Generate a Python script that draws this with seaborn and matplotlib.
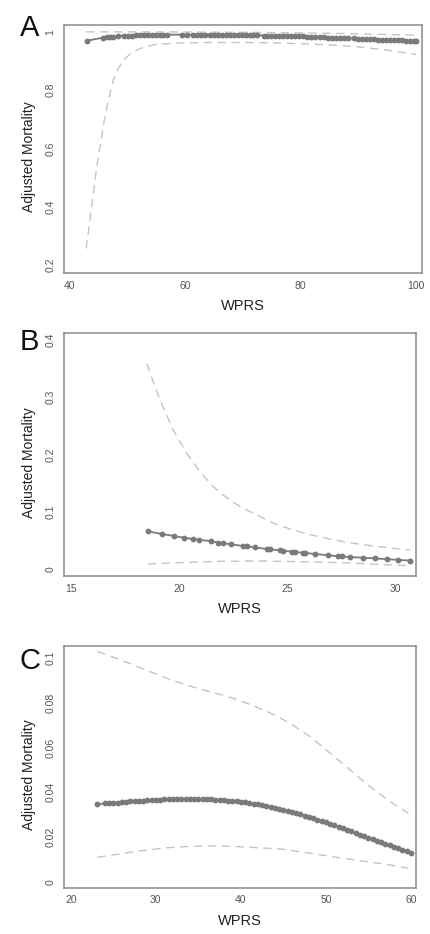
#!/usr/bin/env python3

import pandas
import seaborn as sns
import matplotlib

matplotlib.use("Agg")
import matplotlib.pyplot as plt

# Panel A: estimate (dots) and confidence band (dashed)
a_x = [42.9, 45.8, 46.4, 47.0, 47.5, 48.4, 49.3, 50.0, 50.7, 51.4,
       52.1, 52.8, 53.5, 54.2, 54.9, 55.6, 56.2, 56.8, 59.4, 60.3,
       61.4, 62.1, 62.8, 63.5, 64.2, 64.9, 65.6, 66.3, 67.0, 67.7,
       68.4, 69.1, 69.8, 70.5, 71.2, 71.8, 72.4, 73.6, 74.1, 74.8,
       75.5, 76.2, 76.9, 77.6, 78.3, 79.0, 79.7, 80.4, 81.1, 81.8,
       82.5, 83.4, 84.1, 84.8, 85.5, 86.2, 86.9, 87.6, 88.3, 89.2,
       89.9, 90.6, 91.3, 92.0, 92.7, 93.4, 94.1, 94.8, 95.5, 96.2,
       96.9, 97.6, 98.3, 99.0, 99.7, 100.0]
a_y = [0.969, 0.980, 0.981, 0.982, 0.983, 0.985, 0.986, 0.987, 0.987, 0.988,
       0.988, 0.989, 0.989, 0.989, 0.990, 0.990, 0.990, 0.990, 0.990, 0.990,
       0.990, 0.990, 0.990, 0.990, 0.990, 0.990, 0.990, 0.989, 0.989, 0.989,
       0.989, 0.989, 0.989, 0.988, 0.988, 0.988, 0.988, 0.987, 0.987, 0.987,
       0.986, 0.986, 0.986, 0.985, 0.985, 0.984, 0.984, 0.984, 0.983, 0.983,
       0.982, 0.981, 0.981, 0.980, 0.980, 0.979, 0.979, 0.978, 0.977, 0.977,
       0.976, 0.975, 0.975, 0.974, 0.974, 0.973, 0.973, 0.972, 0.971, 0.971,
       0.970, 0.970, 0.969, 0.968, 0.968, 0.967]
a_lo_x = [42.8, 43.5, 44.0, 44.6, 45.2, 45.8, 46.4, 47.0, 47.5, 48.4,
          49.3, 50.5, 52.2, 55.0, 60.0, 65.0, 70.0, 75.0, 80.0, 85.0,
          90.0, 95.0, 100.0]
a_lo_y = [0.257, 0.36, 0.44, 0.53, 0.606, 0.68, 0.743, 0.795, 0.834, 0.875,
          0.903, 0.925, 0.943, 0.957, 0.962, 0.963, 0.963, 0.962, 0.959, 0.955,
          0.948, 0.937, 0.922]
a_hi_x = [42.8, 50.0, 60.0, 70.0, 80.0, 90.0, 100.0]
a_hi_y = [0.9995, 0.9995, 0.999, 0.998, 0.996, 0.993, 0.988]

# Panel B
b_x = [18.56, 19.23, 19.76, 20.22, 20.67, 20.93, 21.47, 21.82, 22.02, 22.41,
       22.98, 23.13, 23.52, 24.06, 24.21, 24.67, 24.82, 25.21, 25.37, 25.75,
       25.83, 26.29, 26.9, 27.37, 27.52, 27.91, 28.52, 29.06, 29.6, 30.14,
       30.68]
b_y = [0.066, 0.0614, 0.058, 0.055, 0.0525, 0.0515, 0.049, 0.0465, 0.0455, 0.0435,
       0.0405, 0.040, 0.038, 0.0355, 0.035, 0.0328, 0.0322, 0.031, 0.0303, 0.0288,
       0.0285, 0.0267, 0.0245, 0.0228, 0.0224, 0.0214, 0.0202, 0.019, 0.0177, 0.0164,
       0.0152]
b_lo_x = [18.56, 20.0, 22.0, 23.75, 26.0, 26.83, 28.0, 30.68]
b_lo_y = [0.0093, 0.0115, 0.0140, 0.0144, 0.0130, 0.0122, 0.0108, 0.0063]
b_hi_x = [18.51, 19.13, 19.74, 20.36, 20.98, 21.59, 22.05, 22.51, 22.98, 23.44,
          23.9, 24.36, 25.29, 26.06, 26.83, 27.6, 28.37, 29.5, 30.68]
b_hi_y = [0.358, 0.2943, 0.2423, 0.2017, 0.1697, 0.1437, 0.1290, 0.1166, 0.1062, 0.0974,
          0.0890, 0.0805, 0.0683, 0.0605, 0.0539, 0.0483, 0.0435, 0.0383, 0.0336]

# Panel C
c_x = [23.1, 24.0, 24.5, 25.0, 25.5, 26.0, 26.5, 27.0, 27.5, 28.0,
       28.5, 29.0, 29.5, 30.0, 30.5, 31.0, 31.5, 32.0, 32.5, 33.0,
       33.5, 34.0, 34.5, 35.0, 35.5, 36.0, 36.5, 37.0, 37.5, 38.0,
       38.5, 39.0, 39.5, 40.0, 40.5, 41.0, 41.5, 42.0, 42.5, 43.0,
       43.5, 44.0, 44.5, 45.0, 45.5, 46.0, 46.5, 47.0, 47.5, 48.0,
       48.5, 49.0, 49.5, 50.0, 50.5, 51.0, 51.5, 52.0, 52.5, 53.0,
       53.5, 54.0, 54.5, 55.0, 55.5, 56.0, 56.5, 57.0, 57.5, 58.0,
       58.5, 59.0, 59.5, 60.0]
c_y = [0.0346, 0.0350, 0.0351, 0.0353, 0.0354, 0.0356, 0.0357, 0.0359, 0.0360, 0.0361,
       0.0363, 0.0364, 0.0365, 0.0366, 0.0367, 0.0368, 0.0368, 0.0369, 0.0369, 0.0370,
       0.0370, 0.0370, 0.0370, 0.0370, 0.0369, 0.0369, 0.0368, 0.0367, 0.0366, 0.0364,
       0.0363, 0.0361, 0.0359, 0.0357, 0.0355, 0.0352, 0.0349, 0.0346, 0.0343, 0.0339,
       0.0335, 0.0331, 0.0327, 0.0322, 0.0317, 0.0312, 0.0307, 0.0301, 0.0296, 0.0290,
       0.0284, 0.0278, 0.0272, 0.0265, 0.0259, 0.0252, 0.0246, 0.0239, 0.0232, 0.0225,
       0.0218, 0.0211, 0.0204, 0.0197, 0.0190, 0.0183, 0.0177, 0.0170, 0.0164, 0.0157,
       0.0150, 0.0143, 0.0137, 0.0130]
c_lo_x = [23.13, 27.37, 31.3, 34.0, 36.8, 39.0, 41.1, 45.0, 49.0, 52.0,
          54.8, 57.5, 59.7]
c_lo_y = [0.0109, 0.0134, 0.0152, 0.0158, 0.016, 0.0158, 0.0154, 0.0145, 0.0122, 0.0105,
          0.009, 0.0075, 0.006]
c_hi_x = [23.13, 25.3, 27.37, 29.3, 31.3, 33.2, 35.2, 37.2, 39.1, 41.1,
          43.45, 45.8, 48.15, 50.5, 52.86, 55.2, 57.56, 59.7]
c_hi_y = [0.103, 0.100, 0.097, 0.094, 0.091, 0.0885, 0.0862, 0.0842, 0.0821, 0.0793,
          0.0755, 0.0709, 0.0649, 0.0575, 0.0500, 0.0425, 0.0358, 0.0306]

EST_COLOR = "#7a7a7a"
CI_COLOR = "#c4c4c4"
SPINE_COLOR = "#8a8a8a"

PANEL_LETTER_Y = {"A": 22.5, "B": 324.0, "C": 630.0}


def draw_panel(ax, letter, est, lo, hi, xlim, ylim, xticks, yticks, yticklabels):
    """
    Draw one adjusted mortality panel.
    """
    for xs, ys in [lo, hi]:
        df = pandas.DataFrame({"WPRS": xs, "mort": ys})
        sns.lineplot(
            data=df, x="WPRS", y="mort", ax=ax, estimator=None,
            color=CI_COLOR, linewidth=1.0, linestyle=(0, (6, 4)),
        )
    df = pandas.DataFrame({"WPRS": est[0], "mort": est[1]})
    sns.lineplot(
        data=df, x="WPRS", y="mort", ax=ax, estimator=None,
        color=EST_COLOR, linewidth=1.3, marker="o", markersize=4.2,
        markeredgewidth=0, markerfacecolor=EST_COLOR,
    )

    ax.set_xlim(*xlim)
    ax.set_ylim(*ylim)
    ax.set_xticks(xticks)
    ax.set_xticklabels([str(t) for t in xticks])
    ax.set_yticks(yticks)
    ax.set_yticklabels(yticklabels, rotation=90, va="center")

    for side in ["left", "right", "top", "bottom"]:
        ax.spines[side].set_visible(True)
        ax.spines[side].set_color(SPINE_COLOR)
        ax.spines[side].set_linewidth(1.1)
    ax.tick_params(
        axis="both", direction="out", length=4, width=1.0, color=SPINE_COLOR,
        labelsize=7.5, labelcolor="#555555",
    )
    ax.tick_params(axis="y", pad=2)
    ax.tick_params(axis="x", pad=1.5)

    ax.set_xlabel("WPRS", fontsize=10.5, color="#222222")
    ax.set_ylabel("Adjusted Mortality", fontsize=10, color="#222222")
    ax.xaxis.label.set_va("center")
    ax.yaxis.label.set_va("center")

    # pixel based label placement
    bbox = ax.get_position()
    w_px = bbox.width * 431
    h_px = bbox.height * 934
    ax.xaxis.set_label_coords(0.5, -33.0 / h_px)
    ax.yaxis.set_label_coords(-35.0 / w_px, 0.5 - 8.0 / h_px)

    ax.text(-44.0 / w_px, 1.0 + (bbox.y1 * 934 - (934 - PANEL_LETTER_Y[letter])) / h_px,
            letter, transform=ax.transAxes, fontsize=21, ha="left", va="center",
            color="#111111")


def main():
    sns.set_style("white")
    plt.rcParams["font.family"] = ["Liberation Sans", "DejaVu Sans"]

    fig = plt.figure(figsize=(4.31, 9.34), dpi=100)

    def px_axes(left, top, right, bottom):
        return fig.add_axes([
            left / 431, (934 - bottom) / 934,
            (right - left) / 431, (bottom - top) / 934,
        ])

    ax_a = px_axes(64, 25, 421.7, 273)
    ax_b = px_axes(64, 333, 416, 576)
    ax_c = px_axes(64, 645.7, 416, 887.7)

    draw_panel(
        ax_a, "A", (a_x, a_y), (a_lo_x, a_lo_y), (a_hi_x, a_hi_y),
        (38.96, 101.0), (0.173, 1.023), [40, 60, 80, 100],
        [0.2, 0.4, 0.6, 0.8, 1.0], ["0.2", "0.4", "0.6", "0.8", "1"],
    )
    draw_panel(
        ax_b, "B", (b_x, b_y), (b_lo_x, b_lo_y), (b_hi_x, b_hi_y),
        (14.69, 30.96), (-0.0116, 0.411), [15, 20, 25, 30],
        [0.0, 0.1, 0.2, 0.3, 0.4], ["0", "0.1", "0.2", "0.3", "0.4"],
    )
    draw_panel(
        ax_c, "C", (c_x, c_y), (c_lo_x, c_lo_y), (c_hi_x, c_hi_y),
        (19.2, 60.6), (-0.0027, 0.1056), [20, 30, 40, 50, 60],
        [0.0, 0.02, 0.04, 0.06, 0.08, 0.1],
        ["0", "0.02", "0.04", "0.06", "0.08", "0.1"],
    )

    fig.savefig("out.png", dpi=100)


if __name__ == "__main__":
    main()
